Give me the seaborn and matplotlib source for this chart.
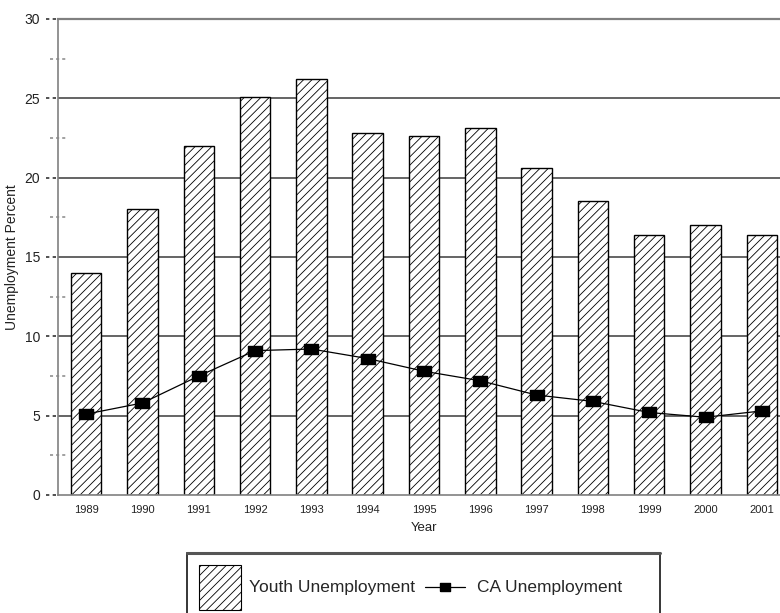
import numpy as np
import pandas as pd
import matplotlib
matplotlib.use("Agg")
import matplotlib.pyplot as plt
import seaborn as sns
from matplotlib.patches import Patch, Rectangle
from matplotlib.lines import Line2D
from matplotlib.legend_handler import HandlerLine2D

# data
years = ["1989", "1990", "1991", "1992", "1993", "1994", "1995",
         "1996", "1997", "1998", "1999", "2000", "2001"]
youth = [14.0, 18.0, 22.0, 25.1, 26.2, 22.8, 22.6, 23.1, 20.6, 18.5, 16.4, 17.0, 16.4]
ca = [5.1, 5.8, 7.5, 9.1, 9.2, 8.6, 7.8, 7.2, 6.3, 5.9, 5.2, 4.9, 5.3]
yticks = [0, 5, 10, 15, 20, 25, 30]
yminor = [2.5, 7.5, 12.5, 17.5, 22.5, 27.5]

df = pd.DataFrame({"Year": years, "Youth": youth, "CA": ca})

sns.set_style("white")
plt.rcParams["font.family"] = ["Liberation Sans", "DejaVu Sans"]
plt.rcParams["hatch.linewidth"] = 0.6


class ShortLine(HandlerLine2D):
    # line handle centred on the patch handle height, nudged left a bit
    def create_artists(self, legend, orig_handle, xdescent, ydescent,
                       width, height, fontsize, trans):
        arts = super().create_artists(legend, orig_handle, xdescent, ydescent,
                                      width, height, fontsize, trans)
        xc = -xdescent + width / 2 - 0.2 * fontsize
        yc = -ydescent + height / 2
        half = 1.15 * fontsize
        line = arts[0]
        line.set_data([xc - half, xc, xc + half], [yc, yc, yc])
        line.set_markevery([1])
        return [line]


fig = plt.figure(figsize=(7.8, 6.13), dpi=100)
W, H = 780, 613
ax = fig.add_axes([58 / W, 1 - 495 / H, 732 / W, 476 / H])

# bars
sns.barplot(data=df, x="Year", y="Youth", color="white", edgecolor="black",
            linewidth=1.0, width=0.54, hatch="////", ax=ax, zorder=2)
for p in ax.patches:
    p.set_facecolor("white")

# CA line
rect = [(-7, -5), (7, -5), (7, 5), (-7, 5), (-7, -5)]
ax.plot(np.arange(len(years)), df["CA"], color="black", lw=0.9,
        marker=rect, ms=10, mfc="black", mec="black", zorder=4)

ax.set_xlim(-0.5, len(years) - 0.5)
ax.set_ylim(0, 30)
ax.set_yticks(yticks)
ax.set_yticklabels([str(t) for t in yticks], fontsize=10, color="#222222")
ax.tick_params(axis="y", length=0, pad=13)
ax.tick_params(axis="x", length=4, width=1, color="#808080", labelsize=8,
               labelcolor="#222222", pad=3)

# gridlines
for t in yticks[1:-1]:
    ax.axhline(t, color="#4a4a4a", lw=1.2, zorder=1)

# dashed tick marks on the y axis
aw = 732.0
tr = ax.get_yaxis_transform()
for t in yticks:
    ax.plot([-12 / aw, -1 / aw], [t, t], transform=tr, color="#333333", lw=1.2,
            ls=(0, (2, 2)), clip_on=False, zorder=5)
for t in yminor:
    ax.plot([-8 / aw, 10 / aw], [t, t], transform=tr, color="#888888", lw=1.1,
            ls=(0, (2, 2)), clip_on=False, zorder=5)

for s in ["left", "bottom", "top"]:
    ax.spines[s].set_color("#808080")
    ax.spines[s].set_linewidth(1.2)
ax.spines["top"].set_linewidth(1.6)
ax.spines["right"].set_visible(False)

ax.set_xlabel("Year", fontsize=9.5, color="#222222", labelpad=5)
ax.set_ylabel("Unemployment Percent", fontsize=10, color="#222222", labelpad=4)

# legend, with its frame drawn separately (it runs off the bottom edge)
handles = [Patch(facecolor="white", edgecolor="black", hatch="////", lw=0.8),
           Line2D([], [], color="black", lw=0.9, marker=rect, ms=7.5, mfc="black")]
fs = 12.5
leg = fig.legend(handles, ["Youth Unemployment", "CA Unemployment"],
                 loc="upper left", bbox_to_anchor=(187 / W, 1 - 553 / H),
                 ncol=2, fontsize=fs, frameon=False,
                 handlelength=2.42, handleheight=3.6, handletextpad=0.46,
                 columnspacing=0.72, borderpad=0.69, borderaxespad=0,
                 handler_map={Line2D: ShortLine()})

fig.add_artist(Rectangle((187 / W, -0.05), (660 - 187) / W, 0.05 + 1 - 553 / H,
                         transform=fig.transFigure, fill=False,
                         edgecolor="black", lw=1.1))
fig.add_artist(Line2D([187 / W, 660 / W], [1 - 553 / H, 1 - 553 / H],
                      transform=fig.transFigure, color="#555555", lw=2.2))

fig.savefig("out.png", dpi=100)
